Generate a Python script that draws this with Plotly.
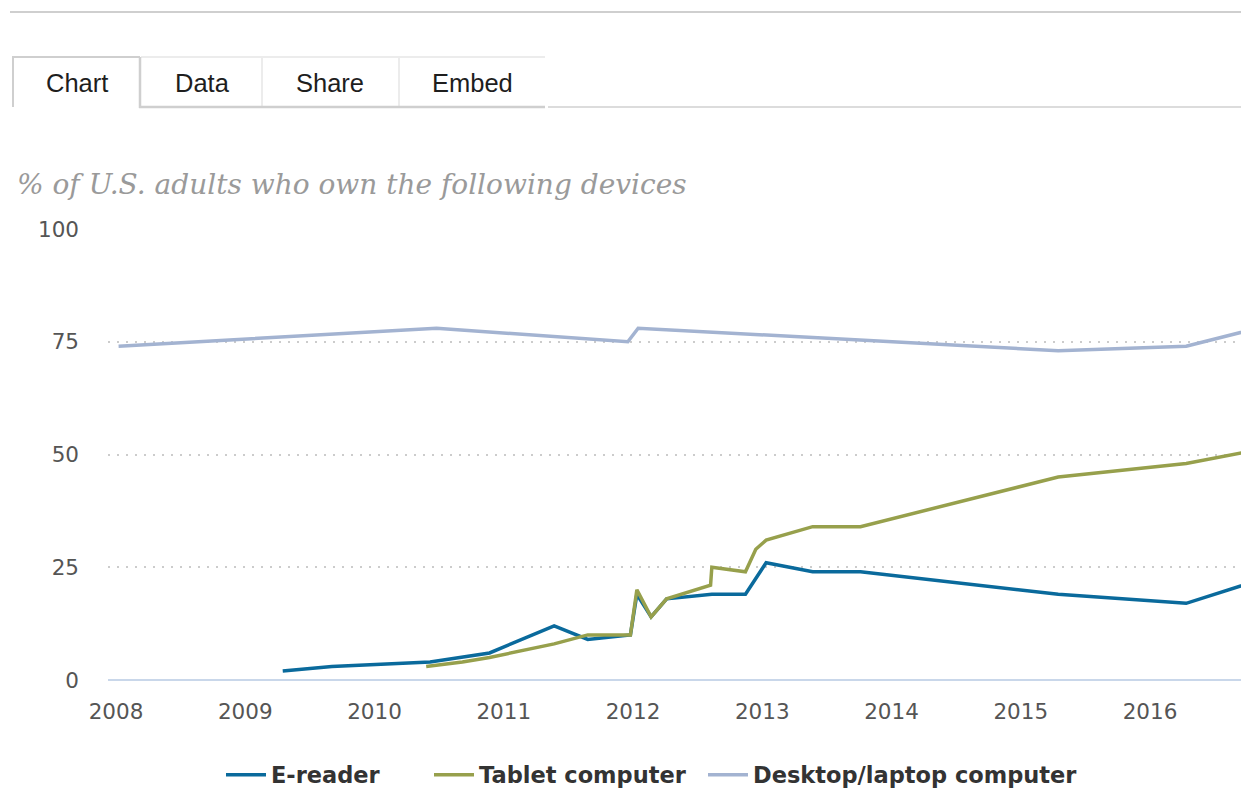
import plotly.graph_objects as go

# ---------------- data ----------------
ereader_x = [2009.29, 2009.67, 2010.43, 2010.68, 2010.89, 2011.39, 2011.65, 2011.98,
             2012.03, 2012.14, 2012.26, 2012.61, 2012.87, 2013.03, 2013.39, 2013.76,
             2015.29, 2016.28, 2016.83]
ereader_y = [2, 3, 4, 5, 6, 12, 9, 10, 19, 14, 18, 19, 19, 26, 24, 24, 19, 17, 22]

tablet_x = [2010.40, 2010.68, 2010.89, 2011.39, 2011.65, 2011.98, 2012.03, 2012.14,
            2012.26, 2012.60, 2012.61, 2012.87, 2012.95, 2013.03, 2013.39, 2013.76,
            2015.29, 2016.28, 2016.83]
tablet_y = [3, 4, 5, 8, 10, 10, 20, 14, 18, 21, 25, 24, 29, 31, 34, 34, 45, 48, 51]

desktop_x = [2008.02, 2010.48, 2011.96, 2012.04, 2015.29, 2016.28, 2016.83]
desktop_y = [74, 78, 75, 78, 73, 74, 78]

x_ticks = [2008, 2009, 2010, 2011, 2012, 2013, 2014, 2015, 2016]
y_ticks = [0, 25, 50, 75, 100]

series_names = ["E-reader", "Tablet computer", "Desktop/laptop computer"]
series_colors = ["#0a6a9c", "#97a04c", "#a3b3d1"]

title_text = "% of U.S. adults who own the following devices"
tab_labels = ["Chart", "Data", "Share", "Embed"]

# ---------------- layout geometry ----------------
# page body has an 8px margin; positions below are in page pixels
OFF = 8
W, H = 1249 - OFF, 788 - OFF
PLOT_L, PLOT_T, PLOT_B = 108, 229, 680
ML = PLOT_L - OFF
MT = PLOT_T - OFF
MB = H - (PLOT_B - OFF)
MR = 0
PW, PH = W - ML - MR, H - MT - MB


def px(x):
    return (x - OFF - ML) / PW


def py(y):
    return (H - MB - (y - OFF)) / PH


def cx(x):
    return (x - OFF) / W


def cy(y):
    return (H - (y - OFF)) / H


legend_names = ["legend", "legend2", "legend3"]
fig = go.Figure()
for xs, ys, name, col, lg in zip([ereader_x, tablet_x, desktop_x],
                                 [ereader_y, tablet_y, desktop_y],
                                 series_names, series_colors, legend_names):
    fig.add_trace(go.Scatter(x=xs, y=ys, mode="lines", name=name, legend=lg,
                             line=dict(color=col, width=3.5)))

shapes = []


def hline(x0, x1, y, color, width):
    shapes.append(dict(type="line", xref="paper", yref="paper",
                       x0=px(x0), x1=px(x1), y0=py(y), y1=py(y),
                       line=dict(color=color, width=width)))


def vline(x, y0, y1, color, width):
    shapes.append(dict(type="line", xref="paper", yref="paper",
                       x0=px(x), x1=px(x), y0=py(y0), y1=py(y1),
                       line=dict(color=color, width=width)))


# top rule
hline(10, 1249, 12, "#cfcfcf", 2)
# inactive tabs
hline(141, 545, 57, "#ececec", 2)
vline(262, 57, 107, "#ececec", 2)
vline(399, 57, 107, "#ececec", 2)
hline(139, 545, 107, "#cfcfcf", 2.5)
hline(548, 1249, 107, "#dcdcdc", 2)
# active tab
hline(12, 140, 57, "#cfcfcf", 2)
vline(13, 57, 107, "#cfcfcf", 2)
vline(140, 57, 108, "#cfcfcf", 2.5)

annotations = []
tab_centers = [77, 202, 330, 472]
for lab, tx in zip(tab_labels, tab_centers):
    annotations.append(dict(text=lab, xref="paper", yref="paper", x=px(tx), y=py(83),
                            xanchor="center", yanchor="middle", showarrow=False,
                            font=dict(family="Liberation Sans", size=25.5, color="#1e1e1e")))

annotations.append(dict(text=title_text, xref="paper", yref="paper",
                        x=px(15), y=py(185), xanchor="left", yanchor="middle",
                        showarrow=False,
                        font=dict(family="DejaVu Serif", size=28, color="#9a9a9a",
                                  style="italic")))

legend_font = dict(family="DejaVu Sans", size=22.5, color="#333333", weight="bold")
legend_starts = [226, 434, 708]


def legend_cfg(sx):
    return dict(orientation="h", xref="container", yref="container",
                x=cx(sx - 5), y=cy(775), xanchor="left", yanchor="middle",
                font=legend_font, itemwidth=40, bgcolor="rgba(0,0,0,0)",
                borderwidth=0)


fig.update_layout(
    width=W, height=H,
    margin=dict(l=ML, r=MR, t=MT, b=MB, pad=0, autoexpand=False),
    paper_bgcolor="white", plot_bgcolor="white",
    shapes=shapes, annotations=annotations,
    showlegend=True,
    legend=legend_cfg(legend_starts[0]),
    legend2=legend_cfg(legend_starts[1]),
    legend3=legend_cfg(legend_starts[2]),
    xaxis=dict(range=[2008 - 8 / 129.25, 2008 + (1249 - 116) / 129.25],
               tickmode="array", tickvals=x_ticks, ticktext=[str(t) for t in x_ticks],
               showgrid=False, zeroline=False, showline=False,
               ticks="", ticklabelstandoff=16,
               tickfont=dict(family="DejaVu Sans", size=21.5, color="#555555")),
    yaxis=dict(range=[0, 100], tickmode="array", tickvals=y_ticks,
               ticktext=[str(t) for t in y_ticks],
               showgrid=True, gridcolor="#cccccc", gridwidth=2, griddash="2px,7px",
               zeroline=True, zerolinecolor="#c9d7ea", zerolinewidth=2,
               showline=False, ticks="", ticklabelstandoff=28,
               tickfont=dict(family="DejaVu Sans", size=21.5, color="#555555")),
)

fig.write_html("out.html")
